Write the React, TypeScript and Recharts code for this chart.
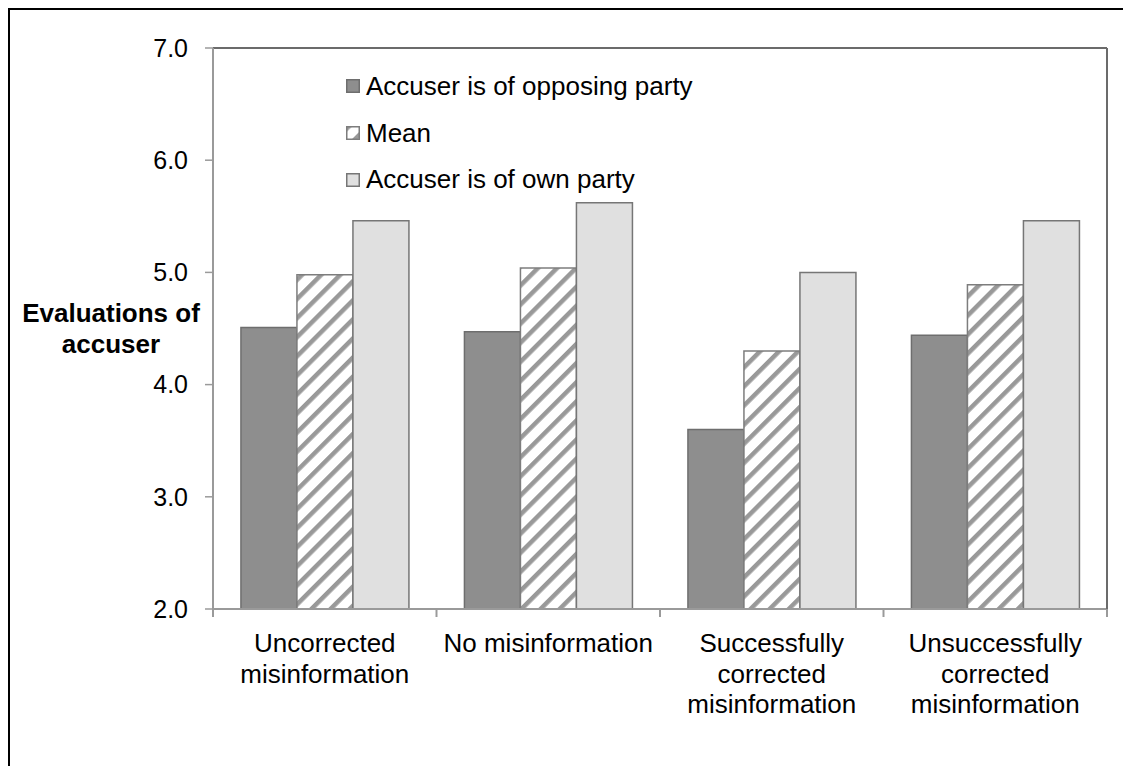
import React from 'react';
import { BarChart, Bar, XAxis, YAxis, Legend } from 'recharts';

const categories = [
  'Uncorrected misinformation',
  'No misinformation',
  'Successfully corrected misinformation',
  'Unsuccessfully corrected misinformation',
];
const categoryLines = [
  ['Uncorrected', 'misinformation'],
  ['No misinformation'],
  ['Successfully', 'corrected', 'misinformation'],
  ['Unsuccessfully', 'corrected', 'misinformation'],
];
const opposingValues = [4.51, 4.47, 3.6, 4.44];
const meanValues = [4.98, 5.04, 4.3, 4.89];
const ownValues = [5.46, 5.62, 5.0, 5.46];
const yTicks = [2, 3, 4, 5, 6, 7];
const seriesNames = ['Accuser is of opposing party', 'Mean', 'Accuser is of own party'];
const yTitleLines = ['Evaluations of', 'accuser'];

const data = categories.map((c, i) => ({
  category: c,
  opposing: opposingValues[i],
  mean: meanValues[i],
  own: ownValues[i],
}));

const W = 1105;
const H = 748;
const MARGIN = { top: 37, right: 7, bottom: 0, left: 0 };
const YAXIS_W = 203;
const XAXIS_H = 149;
const PLOT_W = W - MARGIN.left - MARGIN.right - 1 - YAXIS_W;
const FONT = '"Liberation Sans", Arial, sans-serif';
const AXIS_GRAY = '#9a9a9a';
const BORDER_GRAY = '#6b6b6b';

const fills = ['#8e8e8e', 'url(#stripes)', '#e0e0e0'];
const strokes = ['#6e6e6e', '#7d7d7d', '#767676'];

const XTick = (props: any) => {
  const { x, y, payload } = props;
  const idx = categories.indexOf(payload.value);
  const half = PLOT_W / categories.length / 2;
  const lines = categoryLines[idx] || [payload.value];
  return (
    <g>
      <line x1={x - half} x2={x - half} y1={y} y2={y + 8} stroke={AXIS_GRAY} strokeWidth={2} />
      {idx === categories.length - 1 && (
        <line x1={x + half} x2={x + half} y1={y} y2={y + 8} stroke={AXIS_GRAY} strokeWidth={2} />
      )}
      <text x={x} y={y + 43} textAnchor="middle" fontSize={26} fill="#000" fontFamily={FONT}>
        {lines.map((l, i) => (
          <tspan key={i} x={x} dy={i === 0 ? 0 : 30.5}>
            {l}
          </tspan>
        ))}
      </text>
    </g>
  );
};

const YTitle = () => (
  <text x={101} y={312} textAnchor="middle" fontSize={26} fontWeight="bold" fill="#000" fontFamily={FONT}>
    {yTitleLines.map((l, i) => (
      <tspan key={i} x={101} dy={i === 0 ? 0 : 31}>
        {l}
      </tspan>
    ))}
  </text>
);

const renderLegend = () => (
  <div style={{ fontFamily: FONT, fontSize: 26, color: '#000' }}>
    {seriesNames.map((n, i) => (
      <div key={n} style={{ display: 'flex', alignItems: 'center', height: 46.7, whiteSpace: 'nowrap' }}>
        <svg width={14} height={14} style={{ marginRight: 6, flex: 'none' }}>
          <rect x={0.75} y={0.75} width={12.5} height={12.5} fill={fills[i]} stroke={strokes[i]} strokeWidth={1.5} />
        </svg>
        <span>{n}</span>
      </div>
    ))}
  </div>
);

export default function App() {
  return (
    <div style={{ position: 'fixed', left: 0, top: 0, width: 1123, height: 766, overflow: 'hidden', background: '#fff' }}>
      <div
        style={{
          position: 'absolute',
          left: 8,
          top: 8,
          width: 1200,
          height: 800,
          borderTop: '2px solid #000',
          borderLeft: '2px solid #000',
          fontFamily: FONT,
        }}
      >
        <BarChart width={W} height={H} data={data} margin={MARGIN} barCategoryGap="12.5%" barGap={0} style={{ display: 'block' }}>
          <defs>
            <pattern id="stripes" patternUnits="userSpaceOnUse" width={13.5} height={13.5} patternTransform="rotate(45)">
              <rect x={0} y={0} width={13.5} height={13.5} fill="#ffffff" />
              <rect x={0} y={0} width={4.5} height={13.5} fill="#999999" />
            </pattern>
          </defs>
          <XAxis
            dataKey="category"
            height={XAXIS_H}
            tick={<XTick />}
            tickLine={false}
            tickSize={0}
            tickMargin={0}
            interval={0}
            axisLine={{ stroke: AXIS_GRAY, strokeWidth: 2 }}
          />
          <XAxis
            xAxisId="top"
            dataKey="category"
            orientation="top"
            height={1}
            tick={false}
            tickLine={false}
            axisLine={{ stroke: BORDER_GRAY, strokeWidth: 2 }}
          />
          <YAxis
            domain={[2, 7]}
            ticks={yTicks}
            allowDataOverflow
            width={YAXIS_W}
            tickFormatter={(v: number) => v.toFixed(1)}
            tick={{ fontSize: 25, fill: '#000', fontFamily: FONT }}
            tickSize={8}
            tickMargin={17}
            tickLine={{ stroke: AXIS_GRAY, strokeWidth: 1.5 }}
            axisLine={{ stroke: AXIS_GRAY, strokeWidth: 2 }}
            label={{ content: <YTitle /> }}
          />
          <YAxis
            yAxisId="right"
            orientation="right"
            width={1}
            tick={false}
            tickLine={false}
            axisLine={{ stroke: BORDER_GRAY, strokeWidth: 2 }}
          />
          <Legend
            layout="vertical"
            align="center"
            verticalAlign="middle"
            content={renderLegend}
            wrapperStyle={{ left: 336, top: 53, width: 'auto', height: 'auto' }}
          />
          <Bar dataKey="opposing" name={seriesNames[0]} fill={fills[0]} stroke={strokes[0]} strokeWidth={1.5} isAnimationActive={false} />
          <Bar dataKey="mean" name={seriesNames[1]} fill={fills[1]} stroke={strokes[1]} strokeWidth={1.5} isAnimationActive={false} />
          <Bar dataKey="own" name={seriesNames[2]} fill={fills[2]} stroke={strokes[2]} strokeWidth={1.5} isAnimationActive={false} />
        </BarChart>
      </div>
    </div>
  );
}
